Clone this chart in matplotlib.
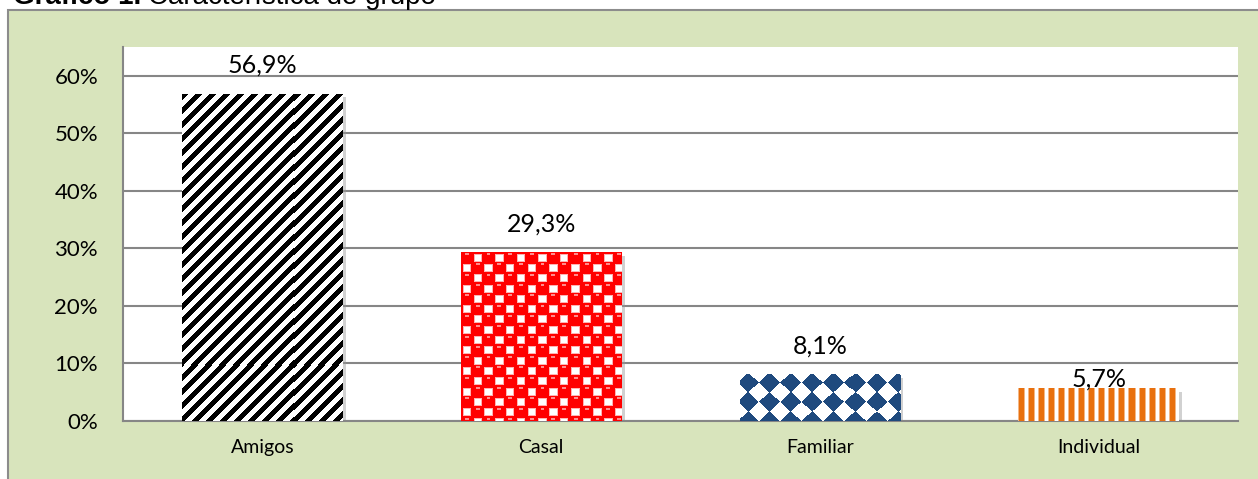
import numpy as np
import matplotlib
matplotlib.use("Agg")
import matplotlib.pyplot as plt
from matplotlib.patches import Rectangle
from matplotlib import patheffects as pe
from matplotlib.ticker import FuncFormatter

# data
categories = ["Amigos", "Casal", "Familiar", "Individual"]
values = [56.9, 29.3, 8.1, 5.7]
value_labels = ["56,9%", "29,3%", "8,1%", "5,7%"]
y_ticks = [0, 10, 20, 30, 40, 50, 60]

# styles
GREEN = "#d8e4bc"
GRID = "#868686"
NAVY = np.array([31, 74, 126]) / 255
RED = np.array([255, 0, 0]) / 255
ORANGE = np.array([232, 112, 14]) / 255
label_offsets = [17, 17, 17, -2]  # px above bar top

W, H, DPI = 1258, 479, 100
fig = plt.figure(figsize=(W / DPI, H / DPI), dpi=DPI, facecolor="white")

# green chart frame, behind the axes
fig.patches.append(Rectangle((8 / W, -0.1), 1.2, 1.1 - 10 / H, transform=fig.transFigure,
                             facecolor=GREEN, edgecolor="#8c8c8c", linewidth=1.5, zorder=-5))

# title (cut off at the top in the source)
t1 = fig.text(13 / W, 1 - 4 / H, "Gráfico 1.", family="Liberation Sans", weight="bold",
              fontsize=20, va="baseline")
fig.canvas.draw()
bb = t1.get_window_extent()
fig.text((bb.x1 + 7) / W, 1 - 4 / H, "Característica de grupo", family="Liberation Sans",
         fontsize=20, va="baseline")

ax = fig.add_axes([123 / W, 1 - 421 / H, 1115 / W, 374 / H])
ax.set_facecolor("white")
ax.set_xlim(-0.5, len(categories) - 0.5)
ax.set_ylim(0, 65)
ax.set_axisbelow(True)

x = np.arange(len(categories))
shadow = [pe.SimplePatchShadow(offset=(2.5, -2.5), shadow_rgbFace="#999999", alpha=0.45), pe.Normal()]
bars = ax.bar(x, values, width=0.575, color="white", linewidth=0, zorder=2, path_effects=shadow)

ax.set_yticks(y_ticks)
ax.yaxis.set_major_formatter(FuncFormatter(lambda v, _: f"{int(v)}%"))
ax.set_xticks(x)
ax.set_xticklabels(categories)
ax.grid(axis="y", color=GRID, linewidth=1.5)
ax.tick_params(axis="y", length=0, pad=18, labelsize=16)
ax.tick_params(axis="x", length=0, pad=13, labelsize=14)
for lab in ax.get_xticklabels() + ax.get_yticklabels():
    lab.set_family("Lato")
for s in ["top", "right"]:
    ax.spines[s].set_visible(False)
for s in ["left", "bottom"]:
    ax.spines[s].set_color(GRID)
    ax.spines[s].set_linewidth(1.5)


# fill patterns
def stripes_diag(ii, jj):
    img = np.ones(ii.shape + (3,))
    img[((ii + jj) % 14) < 6.5] = 0
    return img


def red_balls(ii, jj):
    cw, ch = 10.8, 10.3
    cx = np.floor(ii / cw)
    cy = np.floor(jj / ch)
    lx = ii - (cx + 0.5) * cw
    ly = jj - (cy + 0.5) * ch
    odd = ((cx + cy) % 2) == 1
    img = np.empty(ii.shape + (3,))
    img[:] = RED
    # small glossy highlight on each ball
    hl = (~odd) & (np.abs(lx) < 2.0) & (ly > -4.5) & (ly < -2.5)
    img[hl] = [1.0, 0.55, 0.55]
    # white squares between the balls
    sq = odd & (np.abs(lx) < 3.2) & (np.abs(ly) < 3.0)
    img[sq] = 1.0
    edge = odd & (np.abs(lx) < 4.2) & (np.abs(ly) < 4.0) & ~sq
    img[edge] = [1.0, 0.7, 0.7]
    return img


def navy_diamonds(ii, jj):
    px, py = 21.3, 19.3
    du = (ii - 7.7) / px
    dv = (jj - 8.0) / py
    du = (du - np.round(du)) * px
    dv = (dv - np.round(dv)) * py
    img = np.ones(ii.shape + (3,))
    img[np.abs(du) / 10.5 + np.abs(dv) / 10.0 <= 1] = NAVY
    return img


def orange_bars(ii, jj):
    m = ii % 10
    img = np.ones(ii.shape + (3,))
    img[(m >= 1) & (m < 6)] = ORANGE
    img[(m == 0) | (m == 6)] = 0.5 * ORANGE + 0.5
    return img


patterns = [stripes_diag, red_balls, navy_diamonds, orange_bars]

fig.canvas.draw()
for bar, fill in zip(bars, patterns):
    ext = bar.get_window_extent()
    # one image pixel per screen pixel, so the texture has no seams
    dx = bar.get_width() / ext.width
    dy = bar.get_height() / ext.height
    w, h = int(np.ceil(ext.width)) + 2, int(np.ceil(ext.height)) + 2
    ii, jj = np.meshgrid(np.arange(w), np.arange(h))
    img = fill(ii, jj)
    x0, top = bar.get_x(), bar.get_y() + bar.get_height()
    im = ax.imshow(img, extent=(x0, x0 + w * dx, top - h * dy, top),
                   aspect="auto", interpolation="nearest", zorder=3)
    im.set_clip_path(bar)

for xi, v, lab, off in zip(x, values, value_labels, label_offsets):
    ax.annotate(lab, (xi, v), xytext=(0, off * 72 / DPI), textcoords="offset points",
                ha="center", va="bottom", family="Lato", fontsize=18, zorder=4)

ax.set_xlim(-0.5, len(categories) - 0.5)
ax.set_ylim(0, 65)

fig.savefig("out.png", dpi=DPI, facecolor="white")
